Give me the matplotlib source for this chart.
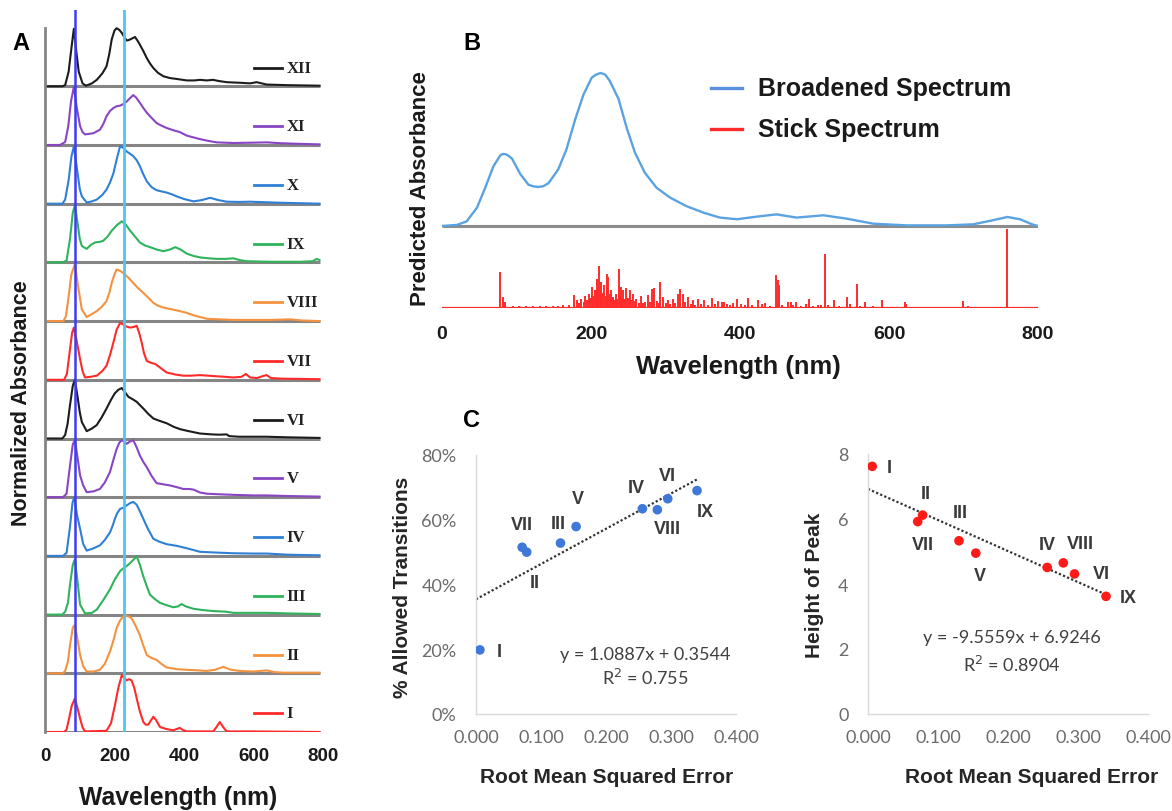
import numpy as np
import matplotlib
matplotlib.use("Agg")
import matplotlib.pyplot as plt
from matplotlib.ticker import FuncFormatter

plt.rcParams['font.family'] = ['Liberation Sans', 'DejaVu Sans']

W, H = 1172, 812

# ---- panel A: normalized absorbance of each model (wavelength nm, absorbance) ----
wl_XII = [0, 50, 58, 68, 75, 83, 90, 97, 108, 118, 135, 149, 165, 177, 185, 192, 200, 206, 214, 221, 228, 235, 242, 249, 259, 266, 273, 283, 293, 302, 312, 325, 341, 360, 379, 408, 430, 446, 465, 484, 500, 523, 561, 590, 609, 638, 695, 790]
ab_XII = [0, 0, 0.02, 0.25, 0.6, 0.98, 0.6, 0.25, 0.05, 0.01, 0.05, 0.11, 0.22, 0.34, 0.55, 0.8, 0.95, 0.99, 0.96, 0.91, 0.84, 0.78, 0.79, 0.81, 0.84, 0.78, 0.71, 0.6, 0.48, 0.39, 0.31, 0.23, 0.17, 0.14, 0.125, 0.10, 0.1, 0.11, 0.1, 0.11, 0.09, 0.07, 0.06, 0.05, 0.07, 0.03, 0.02, 0.01]

wl_XI = [0, 43, 58, 67, 75, 83, 91, 101, 108, 115, 127, 139, 158, 168, 177, 187, 197, 206, 216, 226, 235, 245, 254, 262, 273, 283, 293, 307, 321, 335, 350, 370, 388, 398, 408, 427, 446, 470, 494, 542, 600, 638, 680, 734, 790]
ab_XI = [0, 0, 0.05, 0.32, 0.75, 0.99, 0.65, 0.32, 0.22, 0.18, 0.19, 0.2, 0.26, 0.36, 0.49, 0.58, 0.63, 0.66, 0.67, 0.7, 0.74, 0.8, 0.85, 0.81, 0.72, 0.63, 0.55, 0.46, 0.375, 0.33, 0.29, 0.25, 0.22, 0.19, 0.16, 0.13, 0.1, 0.07, 0.045, 0.034, 0.04, 0.045, 0.03, 0.02, 0.01]

wl_X = [0, 50, 58, 68, 76, 83, 92, 100, 106, 120, 135, 149, 165, 177, 187, 197, 206, 216, 225, 235, 245, 254, 264, 273, 283, 293, 307, 321, 335, 350, 365, 379, 400, 427, 450, 475, 500, 523, 560, 590, 657, 720, 790]
ab_X = [0, 0, 0.07, 0.4, 0.8, 0.98, 0.6, 0.25, 0.125, 0.02, 0.04, 0.07, 0.15, 0.24, 0.36, 0.52, 0.75, 0.98, 0.95, 0.89, 0.85, 0.81, 0.74, 0.64, 0.5, 0.38, 0.28, 0.23, 0.21, 0.19, 0.16, 0.125, 0.08, 0.04, 0.06, 0.1, 0.06, 0.034, 0.03, 0.034, 0.02, 0.01, 0]

wl_IX = [0, 50, 62, 72, 80, 86, 93, 100, 106, 120, 132, 144, 158, 168, 180, 192, 206, 221, 233, 245, 259, 273, 287, 302, 321, 341, 360, 375, 390, 408, 427, 446, 470, 494, 520, 542, 560, 580, 650, 734, 770, 782, 790]
ab_IX = [0, 0, 0.03, 0.4, 0.85, 0.97, 0.7, 0.4, 0.28, 0.23, 0.3, 0.34, 0.35, 0.37, 0.44, 0.54, 0.63, 0.7, 0.64, 0.54, 0.44, 0.34, 0.29, 0.26, 0.22, 0.19, 0.22, 0.26, 0.22, 0.15, 0.11, 0.085, 0.07, 0.06, 0.06, 0.07, 0.04, 0.02, 0.01, 0.01, 0.02, 0.06, 0.04]

wl_VIII = [0, 53, 60, 67, 76, 86, 95, 106, 120, 135, 149, 163, 177, 185, 192, 199, 206, 215, 225, 240, 254, 268, 283, 297, 312, 326, 341, 365, 388, 408, 427, 446, 465, 500, 542, 600, 650, 705, 740, 790]
ab_VIII = [0, 0, 0.08, 0.37, 0.8, 0.97, 0.6, 0.2, 0.07, 0.12, 0.17, 0.24, 0.34, 0.48, 0.65, 0.78, 0.88, 0.86, 0.82, 0.74, 0.65, 0.56, 0.48, 0.4, 0.31, 0.26, 0.23, 0.2, 0.17, 0.14, 0.1, 0.07, 0.04, 0.03, 0.02, 0.02, 0.02, 0.03, 0.01, 0]

wl_VII = [0, 55, 63, 72, 78, 83, 90, 101, 108, 115, 130, 149, 165, 177, 187, 197, 206, 216, 223, 230, 238, 245, 255, 264, 271, 278, 285, 293, 305, 317, 333, 350, 375, 398, 420, 446, 470, 494, 520, 542, 565, 578, 590, 610, 625, 638, 650, 680, 790]
ab_VII = [0, 0, 0.1, 0.52, 0.8, 0.89, 0.7, 0.35, 0.15, 0.04, 0.05, 0.07, 0.15, 0.24, 0.42, 0.64, 0.85, 0.97, 0.95, 0.92, 0.9, 0.89, 0.9, 0.92, 0.8, 0.64, 0.45, 0.32, 0.29, 0.27, 0.2, 0.125, 0.09, 0.07, 0.07, 0.08, 0.07, 0.06, 0.05, 0.04, 0.05, 0.1, 0.04, 0.03, 0.06, 0.08, 0.03, 0.02, 0.01]

wl_VI = [0, 50, 58, 65, 72, 80, 86, 94, 100, 106, 120, 135, 149, 163, 177, 190, 201, 211, 221, 230, 240, 252, 264, 273, 283, 297, 312, 330, 350, 370, 388, 410, 446, 480, 500, 523, 530, 560, 600, 638, 700, 790]
ab_VI = [0, 0, 0.06, 0.25, 0.57, 0.9, 1.0, 0.7, 0.45, 0.28, 0.125, 0.17, 0.23, 0.36, 0.51, 0.66, 0.77, 0.83, 0.86, 0.79, 0.71, 0.67, 0.625, 0.57, 0.51, 0.42, 0.34, 0.3, 0.26, 0.2, 0.16, 0.13, 0.085, 0.07, 0.065, 0.07, 0.04, 0.03, 0.03, 0.03, 0.02, 0.01]

wl_V = [0, 52, 62, 72, 80, 86, 93, 101, 110, 120, 140, 158, 172, 187, 197, 206, 214, 221, 228, 235, 245, 254, 263, 273, 283, 293, 307, 321, 340, 360, 380, 398, 415, 427, 446, 465, 500, 542, 600, 638, 700, 790]
ab_V = [0, 0, 0.06, 0.54, 0.9, 0.97, 0.7, 0.37, 0.2, 0.085, 0.1, 0.14, 0.25, 0.43, 0.64, 0.82, 0.93, 0.97, 0.95, 0.91, 0.95, 0.97, 0.86, 0.71, 0.6, 0.51, 0.36, 0.24, 0.22, 0.2, 0.17, 0.14, 0.14, 0.13, 0.08, 0.06, 0.05, 0.04, 0.03, 0.03, 0.02, 0.01]

wl_IV = [0, 52, 62, 72, 79, 84, 92, 101, 110, 120, 140, 158, 172, 187, 195, 201, 208, 216, 225, 235, 245, 254, 264, 273, 283, 297, 312, 330, 350, 380, 408, 427, 446, 480, 542, 600, 638, 700, 790]
ab_IV = [0, 0, 0.05, 0.5, 0.9, 1.0, 0.7, 0.46, 0.2, 0.09, 0.13, 0.18, 0.27, 0.4, 0.52, 0.63, 0.73, 0.8, 0.82, 0.86, 0.9, 0.92, 0.87, 0.76, 0.63, 0.45, 0.29, 0.24, 0.2, 0.17, 0.13, 0.1, 0.07, 0.06, 0.045, 0.04, 0.04, 0.02, 0.01]

wl_III = [0, 50, 58, 66, 72, 80, 86, 93, 101, 115, 135, 149, 168, 187, 201, 216, 228, 240, 252, 264, 273, 283, 293, 302, 317, 331, 350, 369, 383, 393, 405, 427, 450, 484, 520, 542, 600, 638, 700, 790]
ab_III = [0, 0, 0.05, 0.2, 0.51, 0.85, 0.94, 0.6, 0.17, 0.02, 0.03, 0.085, 0.25, 0.43, 0.6, 0.74, 0.8, 0.85, 0.92, 0.99, 0.85, 0.65, 0.48, 0.34, 0.26, 0.2, 0.16, 0.125, 0.14, 0.18, 0.14, 0.1, 0.08, 0.06, 0.05, 0.03, 0.03, 0.03, 0.02, 0.01]

wl_II = [0, 52, 58, 66, 72, 80, 86, 93, 101, 110, 120, 140, 158, 172, 187, 197, 206, 216, 225, 230, 240, 249, 260, 273, 283, 293, 307, 321, 335, 350, 380, 408, 440, 465, 490, 513, 535, 561, 600, 638, 660, 686, 790]
ab_II = [0, 0, 0.04, 0.2, 0.48, 0.78, 0.82, 0.6, 0.31, 0.12, 0.03, 0.03, 0.06, 0.16, 0.37, 0.56, 0.77, 0.9, 0.97, 0.99, 0.97, 0.94, 0.82, 0.65, 0.47, 0.31, 0.26, 0.23, 0.16, 0.1, 0.07, 0.06, 0.05, 0.04, 0.06, 0.11, 0.06, 0.04, 0.03, 0.05, 0.02, 0.01, 0.01]

wl_I = [0, 55, 62, 70, 77, 86, 93, 101, 108, 115, 177, 190, 201, 211, 221, 228, 235, 242, 249, 257, 264, 273, 283, 290, 297, 305, 312, 320, 331, 350, 369, 388, 398, 408, 484, 493, 503, 513, 523, 590, 790]
ab_I = [0, 0, 0.04, 0.25, 0.45, 0.57, 0.42, 0.23, 0.08, 0.01, 0.02, 0.15, 0.45, 0.75, 0.97, 0.92, 0.88, 0.9, 0.88, 0.75, 0.57, 0.35, 0.17, 0.125, 0.125, 0.2, 0.26, 0.2, 0.085, 0.05, 0.03, 0.07, 0.03, 0.01, 0.01, 0.08, 0.17, 0.08, 0.01, 0.01, 0]

names_a = ['I', 'II', 'III', 'IV', 'V', 'VI', 'VII', 'VIII', 'IX', 'X', 'XI', 'XII']
colors_a = ['#ff2b2b', '#f3923f', '#2fb35c', '#2f80d4', '#8a45c2', '#1c1c1c',
            '#ff2b2b', '#f3923f', '#2fb35c', '#2f80d4', '#8a45c2', '#1c1c1c']
marker_lines_nm = [86, 227]

# ---- panel B: predicted spectrum of model I ----
broad_wl = [0, 20, 33, 47, 58, 69, 78, 81, 85, 89, 94, 105, 116, 122, 129, 136, 143, 156, 167, 179, 190, 201, 207, 213, 219, 225, 237, 248, 259, 272, 288, 306, 328, 351, 373, 396, 422, 449, 476, 512, 543, 579, 624, 677, 713, 735, 759, 776, 792, 800]
broad_ab = [0, 0.007, 0.03, 0.12, 0.25, 0.39, 0.46, 0.47, 0.47, 0.46, 0.44, 0.34, 0.27, 0.26, 0.255, 0.26, 0.28, 0.37, 0.5, 0.7, 0.86, 0.97, 0.99, 1.0, 0.99, 0.95, 0.83, 0.64, 0.48, 0.35, 0.25, 0.186, 0.13, 0.087, 0.055, 0.044, 0.061, 0.076, 0.055, 0.07, 0.048, 0.015, 0.004, 0.004, 0.011, 0.033, 0.059, 0.044, 0.011, 0]

stick_wl = [78, 82, 85, 95, 104, 113, 122, 131, 140, 149, 156, 163, 170, 177, 181, 184, 187, 190, 192, 195, 197, 199, 201, 203, 205, 207, 208, 210, 211, 213, 214, 216, 218, 220, 221, 222, 223, 225, 227, 229, 230, 232, 233, 235, 237, 239, 240, 242, 243, 245, 247, 250, 252, 254, 256, 259, 261, 264, 267, 270, 273, 276, 279, 282, 285, 288, 290, 293, 296, 300, 303, 306, 310, 313, 317, 320, 323, 326, 330, 334, 337, 340, 343, 347, 352, 357, 363, 366, 370, 376, 378, 382, 387, 391, 396, 402, 407, 411, 416, 424, 429, 433, 440, 448, 451, 453, 457, 464, 468, 471, 475, 482, 489, 492, 498, 505, 509, 514, 518, 526, 533, 544, 548, 557, 561, 568, 578, 591, 603, 621, 623, 643, 699, 706, 759]
stick_h = [36, 11, 6, 2, 2, 2, 2, 2, 2, 2, 2.5, 3, 3, 12.7, 7.7, 5, 9.3, 6, 12, 8, 14, 10, 21, 12, 17.7, 15, 29, 20, 42, 18, 26, 15, 22.7, 12, 34, 20, 31, 14, 17.7, 10, 11, 8, 14, 9, 39, 12, 21, 10, 17.7, 9, 20, 10, 17.7, 8, 14, 7, 9.3, 5, 12, 5, 6, 12.7, 6, 19, 20, 7, 5, 26, 11, 5, 7.7, 4, 9.3, 5, 14, 18.7, 14, 6, 11, 4, 7.7, 3, 9.3, 4, 7.7, 3, 10, 4, 6.7, 6, 6, 4.3, 3, 5.3, 9.3, 4, 3, 10, 3, 7.7, 4.3, 5.3, 2, 33, 27.7, 22.7, 3, 6, 6, 3, 6, 2, 4.3, 8.7, 2, 3.3, 3, 54, 3, 7.7, 2, 11, 4.3, 24, 2, 6, 2, 7.7, 1.5, 6, 4, 1, 6.7, 1.7, 78.7]

# ---- panel C: fit quality of models I-IX ----
fit_names = ['I', 'II', 'III', 'IV', 'V', 'VI', 'VII', 'VIII', 'IX']
rmse = [0.006, 0.078, 0.130, 0.256, 0.154, 0.295, 0.071, 0.279, 0.340]
allowed = [0.198, 0.500, 0.528, 0.634, 0.579, 0.665, 0.515, 0.631, 0.690]
peak_height = [7.62, 6.12, 5.33, 4.51, 4.95, 4.31, 5.92, 4.65, 3.62]
fit_allowed = (1.0887, 0.3544, 0.755)
fit_peak = (-9.5559, 6.9246, 0.8904)

# label positions next to each point (data coords)
lab_allowed = [(0.035, 0.194), (0.091, 0.407), (0.126, 0.588), (0.247, 0.699), (0.156, 0.665),
               (0.294, 0.737), (0.070, 0.586), (0.294, 0.572), (0.353, 0.624)]
lab_peak = [(0.030, 7.59), (0.083, 6.79), (0.132, 6.2), (0.256, 5.2), (0.160, 4.26),
            (0.333, 4.31), (0.078, 5.23), (0.303, 5.26), (0.372, 3.59)]


def fpos(x, y):
    return x / W, 1 - y / H


def ax_rect(x0, y0, x1, y1):
    return [x0 / W, 1 - y1 / H, (x1 - x0) / W, (y1 - y0) / H]


fig = plt.figure(figsize=(W / 100, H / 100), dpi=100)

# ---------------- A ----------------
spectra = [(wl_I, ab_I), (wl_II, ab_II), (wl_III, ab_III), (wl_IV, ab_IV), (wl_V, ab_V), (wl_VI, ab_VI),
           (wl_VII, ab_VII), (wl_VIII, ab_VIII), (wl_IX, ab_IX), (wl_X, ab_X), (wl_XI, ab_XI), (wl_XII, ab_XII)]
row_px = 58.7
top_units = 12.3
axA = fig.add_axes(ax_rect(45, 733 - top_units * row_px, 323, 733))
axA.set_xlim(0, 800)
axA.set_ylim(0, top_units)
for i, ((wl, ab), name, col) in enumerate(zip(spectra, names_a, colors_a)):
    axA.hlines(i, 0, 790, color='#858585', lw=2.2, zorder=1)
    axA.plot(wl, np.array(ab) + i, color=col, lw=1.5, zorder=2)
    axA.plot([600, 681], [i + 0.32, i + 0.32], color=col, lw=2, zorder=2)
    axA.text(695, i + 0.32, name, color='#222222', fontsize=12, fontweight='bold',
             family=['Liberation Serif', 'DejaVu Serif'], va='center', ha='left')
axA.axvline(marker_lines_nm[0], color='#3c3cf2', lw=1.8, zorder=3)
axA.axvline(marker_lines_nm[1], color='#4ec6f2', lw=2, zorder=3)
for s in ['top', 'right', 'bottom']:
    axA.spines[s].set_visible(False)
axA.spines['left'].set_bounds(0, 12.0)
axA.spines['left'].set_color('#858585')
axA.spines['left'].set_linewidth(2)
axA.set_yticks([])
axA.set_xticks([0, 200, 400, 600, 800])
axA.tick_params(axis='x', length=0, pad=11, labelsize=13.5, labelcolor='#1a1a1a')
for t in axA.get_xticklabels():
    t.set_fontweight('bold')

fig.text(*fpos(21, 44), 'A', fontsize=17, fontweight='bold', ha='center', va='center')
fig.text(*fpos(22, 403), 'Normalized Absorbance', fontsize=15.5, fontweight='bold',
         rotation=90, ha='center', va='center', color='#1a1a1a')
fig.text(*fpos(178, 798), 'Wavelength (nm)', fontsize=17.8, fontweight='bold',
         ha='center', va='center', color='#1a1a1a')

# ---------------- B ----------------
peak_px = 153.0
blue_off = 82 / peak_px
stick_scale = 78.7 / peak_px
axB = fig.add_axes(ax_rect(442, 60, 1038, 309))
axB.set_xlim(0, 800)
axB.set_ylim(0, 249 / peak_px)
axB.hlines(blue_off, 0, 800, color='#8c8c8c', lw=2.2, zorder=1)
axB.plot(broad_wl, np.array(broad_ab) + blue_off, color='#5aa3e0', lw=1.7, zorder=2,
         label='Broadened Spectrum')
axB.hlines(0, 0, 800, color='#ff2b2b', lw=1.6, zorder=2)
axB.vlines(stick_wl, 0, np.array(stick_h) / 78.7 * stick_scale, color='#ff2b2b', lw=1.4, zorder=2)
for s in axB.spines.values():
    s.set_visible(False)
axB.set_yticks([])
axB.set_xticks([0, 200, 400, 600, 800])
axB.tick_params(axis='x', length=0, pad=12, labelsize=14, labelcolor='#1a1a1a')
for t in axB.get_xticklabels():
    t.set_fontweight('bold')

# legend
for yy, col, txt in [(89, '#5a8fe0', 'Broadened Spectrum'), (130, '#ff2b2b', 'Stick Spectrum')]:
    fig.add_artist(plt.Line2D([711 / W, 742 / W], [1 - yy / H, 1 - yy / H], color=col, lw=2.4))
    fig.text(*fpos(758, yy), txt, fontsize=18, fontweight='bold', ha='left', va='center',
             color='#1a1a1a')

fig.text(*fpos(472, 44), 'B', fontsize=17, fontweight='bold', ha='center', va='center')
fig.text(*fpos(421, 189), 'Predicted Absorbance', fontsize=16, fontweight='bold',
         rotation=90, ha='center', va='center', color='#1a1a1a')
fig.text(*fpos(738, 367), 'Wavelength (nm)', fontsize=18.4, fontweight='bold',
         ha='center', va='center', color='#1a1a1a')

# ---------------- C ----------------
def style_c(ax):
    for s in ['top', 'right']:
        ax.spines[s].set_visible(False)
    for s in ['left', 'bottom']:
        ax.spines[s].set_color('#d9d9d9')
        ax.spines[s].set_linewidth(1)
    ax.tick_params(length=0, labelsize=13, labelcolor='#6b6b6b')
    ax.tick_params(axis='y', pad=14)
    ax.tick_params(axis='x', pad=11)
    for t in ax.get_xticklabels() + ax.get_yticklabels():
        t.set_family(['Lato', 'DejaVu Sans'])
    ax.xaxis.set_major_formatter(FuncFormatter(lambda v, p: f'{v:.3f}'))


def trend(ax, fit, xs):
    m, b, r2 = fit
    xx = np.array([0, max(xs)])
    ax.plot(xx, m * xx + b, color='#333333', lw=1.6, ls=(0, (1, 1)), zorder=2)


axC1 = fig.add_axes(ax_rect(476, 456, 736, 715))
axC1.set_xlim(0, 0.4)
axC1.set_ylim(0, 0.8)
axC1.set_xticks([0, 0.1, 0.2, 0.3, 0.4])
axC1.set_yticks([0, 0.2, 0.4, 0.6, 0.8])
axC1.yaxis.set_major_formatter(FuncFormatter(lambda v, p: f'{v * 100:.0f}%'))
trend(axC1, fit_allowed, rmse)
axC1.scatter(rmse, allowed, s=48, color='#3f78d8', zorder=3, edgecolors='none')
for name, (lx, ly) in zip(fit_names, lab_allowed):
    axC1.text(lx, ly, name, fontsize=13, fontweight='bold', color='#3a3a3a', ha='center', va='center')
axC1.text(0.26, 0.186, f'y = {fit_allowed[0]}x + {fit_allowed[1]}', fontsize=13, color='#404040',
          ha='center', va='center', family=['Lato', 'DejaVu Sans'])
axC1.text(0.26, 0.113, f'R$^2$ = {fit_allowed[2]}', fontsize=13, color='#404040',
          ha='center', va='center', family=['Lato', 'DejaVu Sans'])
style_c(axC1)

axC2 = fig.add_axes(ax_rect(868, 455, 1148, 715))
axC2.set_xlim(0, 0.4)
axC2.set_ylim(0, 8)
axC2.set_xticks([0, 0.1, 0.2, 0.3, 0.4])
axC2.set_yticks([0, 2, 4, 6, 8])
trend(axC2, fit_peak, rmse)
axC2.scatter(rmse, peak_height, s=48, color='#ff1a1a', zorder=3, edgecolors='none')
for name, (lx, ly) in zip(fit_names, lab_peak):
    axC2.text(lx, ly, name, fontsize=13, fontweight='bold', color='#3a3a3a', ha='center', va='center')
axC2.text(0.205, 2.36, f'y = {fit_peak[0]}x + {fit_peak[1]}', fontsize=13, color='#404040',
          ha='center', va='center', family=['Lato', 'DejaVu Sans'])
axC2.text(0.205, 1.54, f'R$^2$ = {fit_peak[2]}', fontsize=13, color='#404040',
          ha='center', va='center', family=['Lato', 'DejaVu Sans'])
style_c(axC2)

fig.text(*fpos(472, 421), 'C', fontsize=17, fontweight='bold', ha='center', va='center')
fig.text(*fpos(403, 587), '% Allowed Transitions', fontsize=15, fontweight='bold',
         rotation=90, ha='center', va='center', color='#262626')
fig.text(*fpos(607, 778), 'Root Mean Squared Error', fontsize=15, fontweight='bold',
         ha='center', va='center', color='#262626')
fig.text(*fpos(815, 585), 'Height of Peak', fontsize=15, fontweight='bold',
         rotation=90, ha='center', va='center', color='#262626')
fig.text(*fpos(1032, 778), 'Root Mean Squared Error', fontsize=15, fontweight='bold',
         ha='center', va='center', color='#262626')

fig.savefig('out.png', dpi=100)
